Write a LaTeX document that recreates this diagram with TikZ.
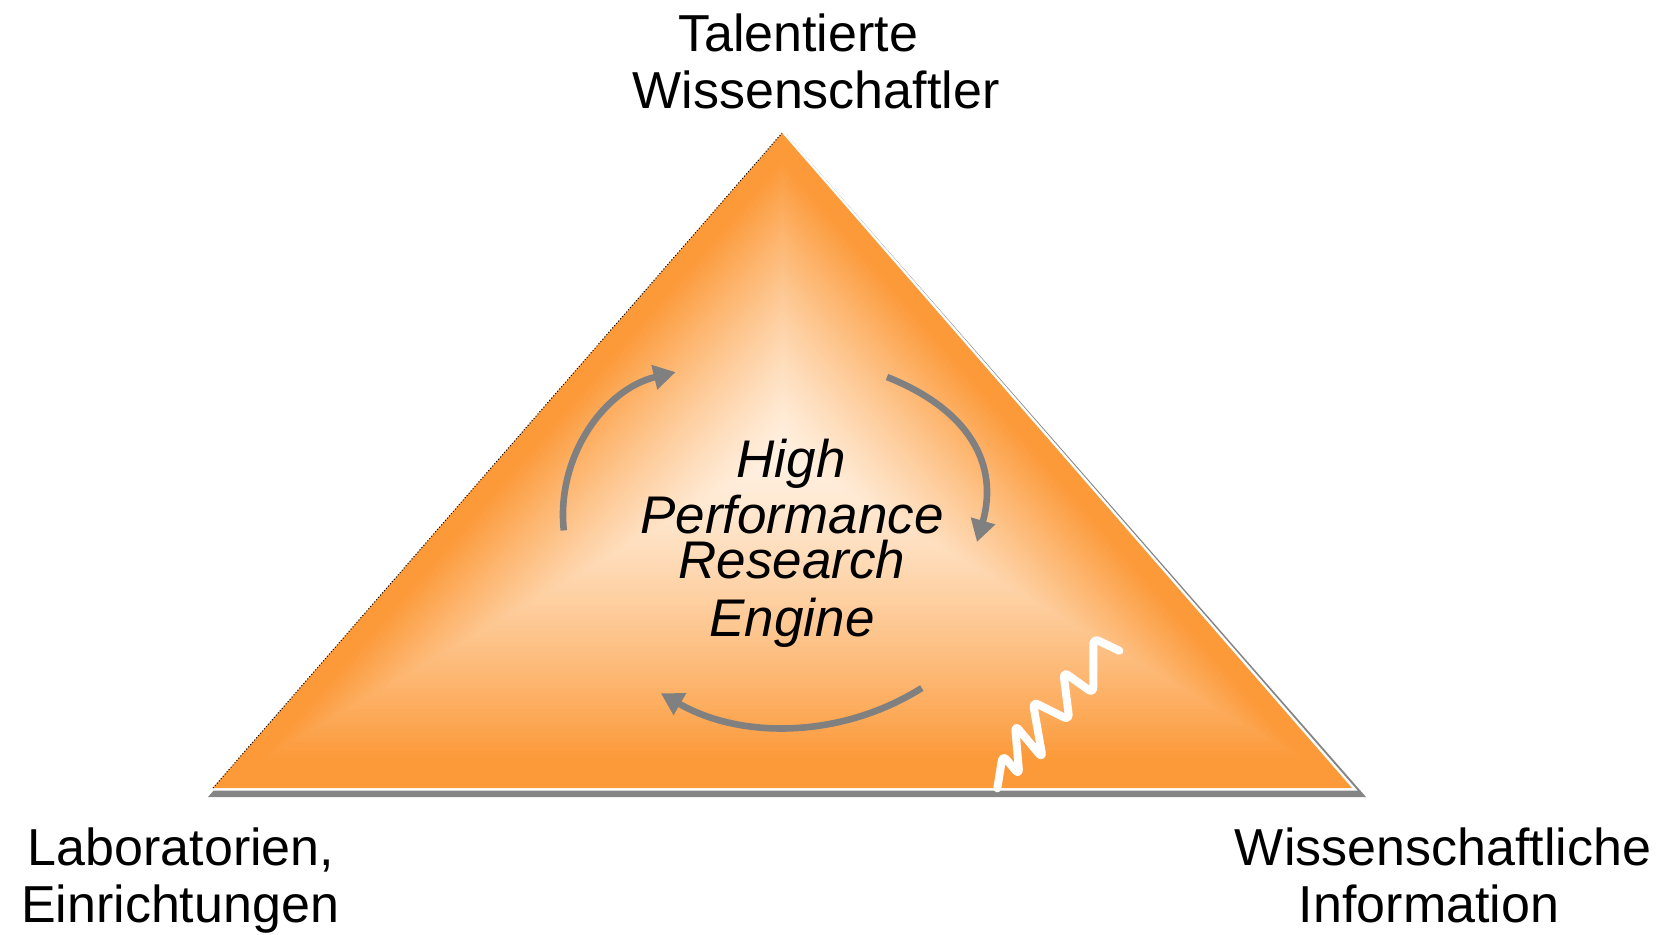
\documentclass[tikz,border=0pt]{standalone}
\usepackage{fontspec}
\setmainfont{Liberation Sans}
\usetikzlibrary{arrows.meta,calc}
\definecolor{edgeorange}{RGB}{252,153,56}
\definecolor{corecream}{RGB}{255,241,226}
\definecolor{arrowgray}{RGB}{128,128,128}
\definecolor{shadowgray}{RGB}{133,133,133}
\begin{document}
\begin{tikzpicture}[x=0.5pt,y=-0.5pt,
  cornerlabel/.style={font=\fontsize{26}{28.5}\selectfont, anchor=base, inner sep=0pt},
  enginetext/.style={font=\fontsize{26.5}{28}\selectfont\itshape, anchor=base, inner sep=0pt},
  cyclearrow/.style={draw=arrowgray, line width=3.3pt, -{Triangle[length=11pt,width=12pt]}},
  squiggle/.style={draw=white, line width=4pt, rounded corners=3pt, line cap=round, line join=round}]
\useasboundingbox (0,0) rectangle (1659,934);

% corners of the triangle and the bright core of its gradient
\coordinate (top) at (782,133);
\coordinate (left) at (213,788);
\coordinate (right) at (1352,788);
\coordinate (core) at (783,455);

% drop shadow and white rim
\fill[shadowgray] (786,134) -- (208,797) -- (1366,797) -- cycle;
\draw[white, line width=2.5pt, line join=miter] (top) -- (left) -- (right) -- cycle;

% path gradient: nested copies of the triangle shrinking towards the core
\foreach \k in {0,...,79}{
  \pgfmathsetmacro\s{1-\k/80}
  \pgfmathsetmacro\p{100*pow(min(1,1.08*\s),1.3)}
  \fill[edgeorange!\p!corecream] ($(core)!\s!(top)$) -- ($(core)!\s!(left)$) -- ($(core)!\s!(right)$) -- cycle;
}
\draw[black, line width=0.5pt, dash pattern=on 0.5pt off 1pt] (left) -- (top);

% white spring
\draw[squiggle] (997.3,788.3) -- (1002.7,755) -- (1019.3,775) -- (1015,725)
  -- (1042.7,758.3) -- (1032.7,701.7) -- (1069.3,720) -- (1063.3,671.7)
  -- (1093.3,693.3) -- (1093.3,638.3) -- (1119.3,650.7);

% cycle arrows
\coordinate (arcA) at (563.8,530.4);
\coordinate (arcB) at (887,377);
\coordinate (arcC) at (921.8,688);
\draw[cyclearrow] (arcA) arc[start angle=-186, end angle=-103.5, radius=147];
\draw[cyclearrow] (arcB) .. controls (970,410) and (999,465) .. (977,542);
\draw[cyclearrow] (arcC) arc[start angle=57.8, end angle=119.9, radius=253];

% centre text
\node[enginetext] (e1) at (791,477) {High};
\node[enginetext] (e2) at (792,533) {Performance};
\node[enginetext] (e3) at (792,578) {Research};
\node[enginetext] (e4) at (792,636) {Engine};

% corner labels
\node[cornerlabel] (t1) at (798,51) {Talentierte};
\node[cornerlabel] (t2) at (816,108) {Wissenschaftler};
\node[cornerlabel] (l1) at (181,865) {Laboratorien,};
\node[cornerlabel] (l2) at (180,922) {Einrichtungen};
\node[cornerlabel] (r1) at (1443,865) {Wissenschaftliche};
\node[cornerlabel] (r2) at (1429,922) {Information};
\end{tikzpicture}
\end{document}
